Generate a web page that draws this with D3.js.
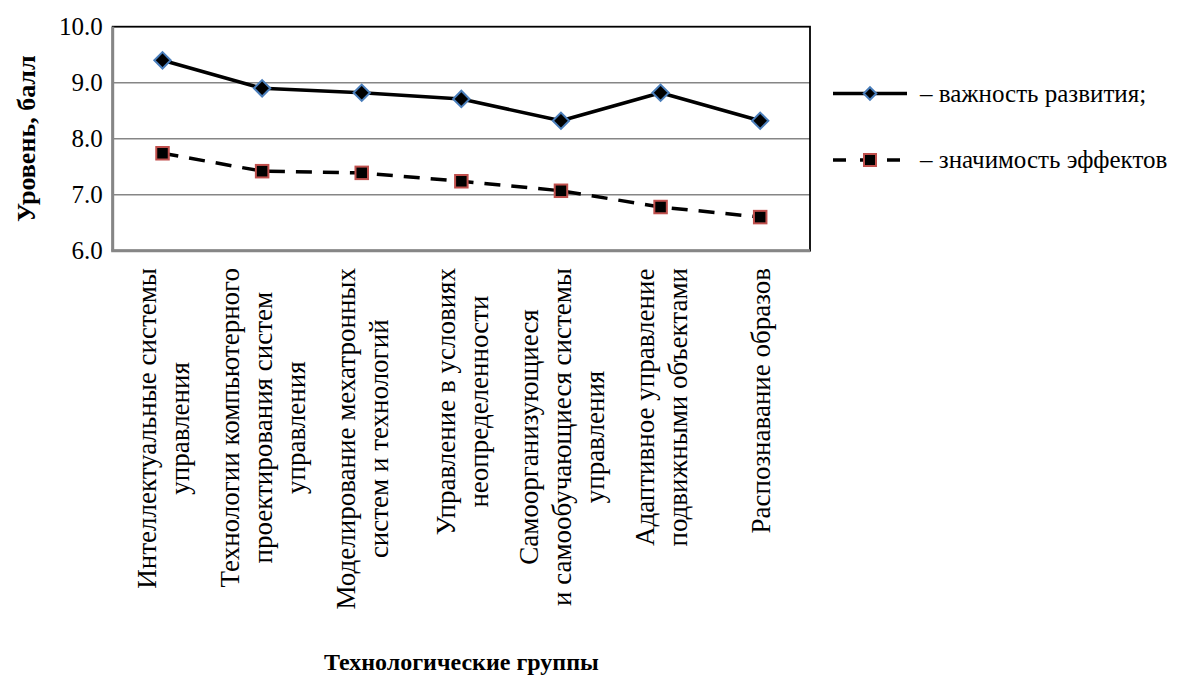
<!DOCTYPE html>
<html>
<head>
<meta charset="utf-8">
<script src="https://cdn.jsdelivr.net/npm/d3@7/dist/d3.min.js"></script>
</head>
<body style="margin:0">
<svg id="chart" width="1188" height="693"></svg>
<script>
// Technology groups (each entry is the list of lines of its axis label)
const categories = [
  ["Интеллектуальные системы", "управления"],
  ["Технологии компьютерного", "проектирования систем", "управления"],
  ["Моделирование мехатронных", "систем и технологий"],
  ["Управление в условиях", "неопределенности"],
  ["Самоорганизующиеся", "и самообучающиеся системы", "управления"],
  ["Адаптивное управление", "подвижными объектами"],
  ["Распознавание образов"]
];

// Scores, points
const importance = [9.4, 8.9, 8.82, 8.71, 8.32, 8.82, 8.32];
const effects = [7.74, 7.42, 7.39, 7.24, 7.07, 6.78, 6.6];

const seriesNames = ["– важность развития;", "– значимость эффектов"];
const yTicks = [6, 7, 8, 9, 10];
const yTitle = "Уровень, балл";
const xTitle = "Технологические группы";

const FONT = '"Times New Roman"';

const svg = d3.select("#chart");
const plot = { left: 112.7, right: 810, top: 26.7, bottom: 250.7 };

const x = d3.scalePoint()
  .domain(d3.range(categories.length))
  .range([plot.left, plot.right])
  .padding(0.5);

const y = d3.scaleLinear().domain([6, 10]).range([plot.bottom, plot.top]);
const fmt = d3.format(".1f");

const gridColor = "#868686";

// horizontal gridlines
svg.append("g")
  .selectAll("line")
  .data(yTicks.filter(t => t > 6 && t < 10))
  .join("line")
  .attr("x1", plot.left).attr("x2", plot.right)
  .attr("y1", d => y(d)).attr("y2", d => y(d))
  .attr("stroke", gridColor).attr("stroke-width", 1.6);

// plot area border
svg.append("rect")
  .attr("x", plot.left).attr("y", plot.top)
  .attr("width", plot.right - plot.left)
  .attr("height", plot.bottom - plot.top)
  .attr("fill", "none")
  .attr("stroke", "#000").attr("stroke-width", 1.8);

// value axis and category axis lines
svg.append("line")
  .attr("x1", plot.left).attr("x2", plot.left)
  .attr("y1", y(10)).attr("y2", y(6))
  .attr("stroke", gridColor).attr("stroke-width", 3);
svg.append("line")
  .attr("x1", plot.left - 1.5).attr("x2", plot.right)
  .attr("y1", y(6)).attr("y2", y(6))
  .attr("stroke", gridColor).attr("stroke-width", 3);

// value tick labels
svg.append("g")
  .selectAll("text")
  .data(yTicks)
  .join("text")
  .attr("x", plot.left - 10)
  .attr("y", d => y(d) + 8)
  .attr("text-anchor", "end")
  .attr("font-size", 25)
  .style("font-family", FONT)
  .text(d => fmt(d));

// category labels, rotated, lines centred on each other, anchored at the axis
const labelTop = 268;
const lineH = 33;
const labelSize = 27;
const labelGroups = categories.map((lines, i) => {
  const g = svg.append("g")
    .attr("transform", `translate(${x(i)},${labelTop}) rotate(-90)`);
  const est = d3.max(lines, ln => ln.length) * 0.47 * labelSize;
  return lines.map((ln, j) =>
    g.append("text")
      .attr("font-size", labelSize)
      .style("font-family", FONT)
      .attr("text-anchor", "middle")
      .attr("x", -est / 2)
      .attr("y", (j - (lines.length - 1) / 2) * lineH + 10)
      .text(ln));
});

// centre each block on its longest line
function fitLabels() {
  labelGroups.forEach(texts => {
    const maxW = d3.max(texts, t => t.node().getComputedTextLength());
    texts.forEach(t => t.attr("x", -maxW / 2));
  });
}
if (document.fonts && document.fonts.ready) document.fonts.ready.then(fitLabels);

// series lines
const line = d3.line().x((d, i) => x(i)).y(d => y(d));

svg.append("path")
  .datum(importance)
  .attr("d", line)
  .attr("fill", "none")
  .attr("stroke", "#000").attr("stroke-width", 3.5)
  .attr("stroke-linejoin", "round");

svg.append("path")
  .datum(effects)
  .attr("d", line)
  .attr("fill", "none")
  .attr("stroke", "#000").attr("stroke-width", 3.5)
  .attr("stroke-dasharray", "16,11");

// markers
const diamond = d3.symbol().type(d3.symbolDiamond2).size(170);
svg.append("g").selectAll("path")
  .data(importance)
  .join("path")
  .attr("transform", (d, i) => `translate(${x(i)},${y(d)})`)
  .attr("d", diamond)
  .attr("fill", "#000")
  .attr("stroke", "#4a7ebb").attr("stroke-width", 2);

const sq = 12.5;
svg.append("g").selectAll("rect")
  .data(effects)
  .join("rect")
  .attr("x", (d, i) => x(i) - sq / 2)
  .attr("y", d => y(d) - sq / 2)
  .attr("width", sq).attr("height", sq)
  .attr("fill", "#000")
  .attr("stroke", "#c0504d").attr("stroke-width", 2);

// legend
const legend = svg.append("g");
const lx1 = 833, lx2 = 907, ly = [93.5, 160];
legend.append("line")
  .attr("x1", lx1).attr("x2", lx2).attr("y1", ly[0]).attr("y2", ly[0])
  .attr("stroke", "#000").attr("stroke-width", 3.5);
legend.append("path")
  .attr("transform", `translate(${(lx1 + lx2) / 2},${ly[0]})`)
  .attr("d", d3.symbol().type(d3.symbolDiamond2).size(100))
  .attr("fill", "#000").attr("stroke", "#4a7ebb").attr("stroke-width", 2);
legend.append("line")
  .attr("x1", lx1).attr("x2", lx2).attr("y1", ly[1]).attr("y2", ly[1])
  .attr("stroke", "#000").attr("stroke-width", 3.5)
  .attr("stroke-dasharray", "13,14");
legend.append("rect")
  .attr("x", (lx1 + lx2) / 2 - 6).attr("y", ly[1] - 6)
  .attr("width", 12).attr("height", 12)
  .attr("fill", "#000").attr("stroke", "#c0504d").attr("stroke-width", 2);
legend.selectAll("text.lg")
  .data(seriesNames)
  .join("text")
  .attr("class", "lg")
  .attr("x", 920)
  .attr("y", (d, i) => ly[i] + 8)
  .attr("font-size", 25)
  .style("font-family", FONT)
  .text(d => d);

// axis titles
svg.append("text")
  .attr("transform", `translate(35,${(plot.top + plot.bottom) / 2}) rotate(-90)`)
  .attr("text-anchor", "middle")
  .attr("font-size", 26)
  .attr("font-weight", "bold")
  .style("font-family", FONT)
  .text(yTitle);

svg.append("text")
  .attr("x", (plot.left + plot.right) / 2)
  .attr("y", 670)
  .attr("text-anchor", "middle")
  .attr("font-size", 24)
  .attr("font-weight", "bold")
  .style("font-family", FONT)
  .text(xTitle);
</script>
</body>
</html>
